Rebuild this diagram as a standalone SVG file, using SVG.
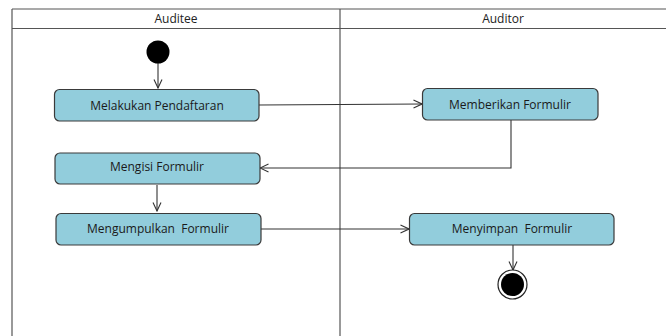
<svg xmlns="http://www.w3.org/2000/svg" width="666" height="336" viewBox="0 0 666 336">
  <style>
    .lane { fill: none; stroke: #555; stroke-width: 1.2; }
    .hdr { font-family: "Open Sans", "Liberation Sans", sans-serif; font-size: 12px; fill: #222; text-anchor: middle; }
    .act rect { fill: #92cddc; stroke: #3a3a3a; stroke-width: 1.2; }
    .act text { font-family: "Open Sans", "Liberation Sans", sans-serif; font-size: 12px; fill: #1a1a1a; text-anchor: middle; dominant-baseline: central; white-space: pre; }
    .flow { fill: none; stroke: #333; stroke-width: 1.1; }
  </style>
  <defs>
    <marker id="open" viewBox="0 0 10 10" refX="9.5" refY="5" markerWidth="10" markerHeight="10" markerUnits="userSpaceOnUse" orient="auto">
      <path d="M1,1 L9.5,5 L1,9" fill="none" stroke="#333" stroke-width="1.1"/>
    </marker>
  </defs>
  <rect width="666" height="336" fill="#fff"/>

  <!-- swimlanes -->
  <g id="lanes">
    <line class="lane" x1="12" y1="9" x2="666" y2="9"/>
    <line class="lane" x1="12" y1="28.5" x2="666" y2="28.5"/>
    <line class="lane" x1="12" y1="9" x2="12" y2="336"/>
    <line class="lane" x1="340" y1="9" x2="340" y2="336"/>
    <text class="hdr" x="176" y="23">Auditee</text>
    <text class="hdr" x="503" y="23">Auditor</text>
  </g>

  <!-- connectors -->
  <g id="connectors">
    <line class="flow" x1="158" y1="62" x2="158" y2="88" marker-end="url(#open)"/>
    <line class="flow" x1="259" y1="105" x2="422" y2="104" marker-end="url(#open)"/>
    <polyline class="flow" points="511,120 511,168 260,168" marker-end="url(#open)"/>
    <line class="flow" x1="157" y1="185" x2="157" y2="211" marker-end="url(#open)"/>
    <line class="flow" x1="261" y1="229" x2="409" y2="229" marker-end="url(#open)"/>
    <line class="flow" x1="513" y1="245" x2="513" y2="270" marker-end="url(#open)"/>
  </g>

  <g id="start">
    <circle cx="158" cy="52" r="11.5" fill="#000"/>
  </g>

  <g id="melakukan-pendaftaran" class="act">
    <rect x="54.5" y="89.5" width="204.5" height="31.5" rx="5"/>
    <text x="157" y="105">Melakukan Pendaftaran</text>
  </g>

  <g id="memberikan-formulir" class="act">
    <rect x="422.5" y="88.5" width="175.5" height="31.5" rx="5"/>
    <text x="510" y="104">Memberikan Formulir</text>
  </g>

  <g id="mengisi-formulir" class="act">
    <rect x="55" y="153" width="205" height="31" rx="5"/>
    <text x="157" y="166">Mengisi Formulir</text>
  </g>

  <g id="mengumpulkan-formulir" class="act">
    <rect x="56" y="213.5" width="205" height="31.5" rx="5"/>
    <text x="158" y="228" xml:space="preserve">Mengumpulkan  Formulir</text>
  </g>

  <g id="menyimpan-formulir" class="act">
    <rect x="409.5" y="213.5" width="204.5" height="31.5" rx="5"/>
    <text x="512" y="228" xml:space="preserve">Menyimpan  Formulir</text>
  </g>

  <g id="end">
    <circle cx="512.5" cy="284.5" r="14.5" fill="#fff" stroke="#222" stroke-width="1.2"/>
    <circle cx="512.5" cy="284.5" r="11.5" fill="#000"/>
  </g>
</svg>
